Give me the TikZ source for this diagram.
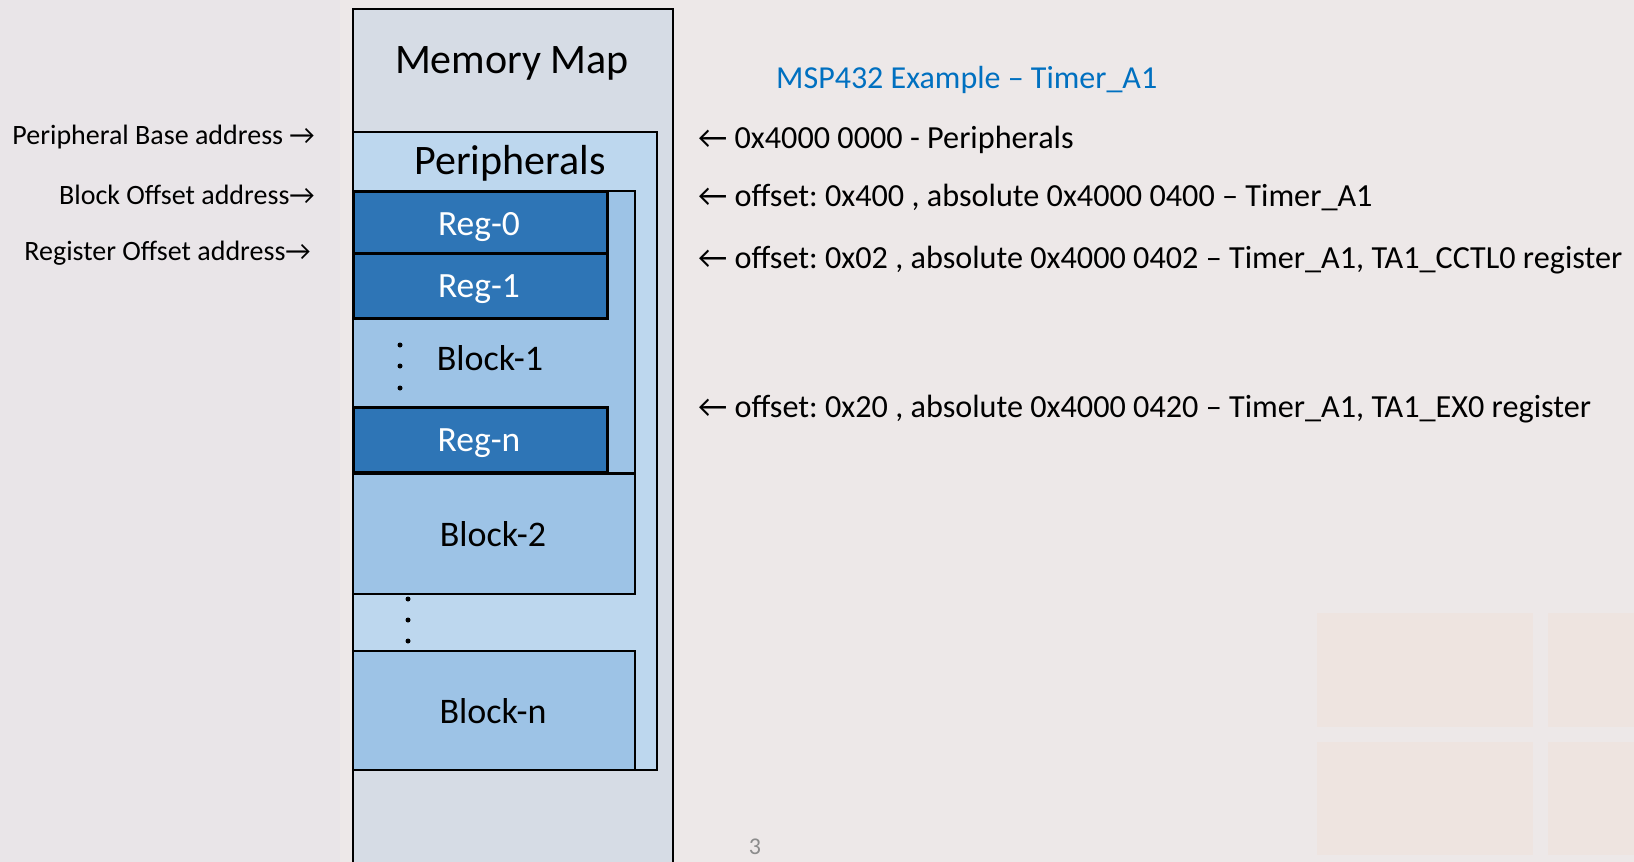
\documentclass[tikz,border=0pt]{standalone}
\usepackage{fontspec}
\setmainfont{Carlito}
\frenchspacing
\definecolor{bgbase}{HTML}{EDE8E8}
\definecolor{bgpeach}{HTML}{EFE2DA}
\definecolor{bgcool}{HTML}{E7E4E9}
\definecolor{outerfill}{HTML}{D6DCE5}
\definecolor{perfill}{HTML}{BDD7EE}
\definecolor{blockfill}{HTML}{9DC3E6}
\definecolor{regfill}{HTML}{2E75B6}
\definecolor{titleblue}{HTML}{0070C0}
\definecolor{pagegray}{HTML}{8C8C8C}
\tikzset{
  outerbox/.style={draw=black, line width=2pt, fill=outerfill},
  perbox/.style={draw=black, line width=2pt, fill=perfill},
  blockbox/.style={draw=black, line width=2.4pt, fill=blockfill},
  regbox/.style={draw=black, line width=3pt, fill=regfill},
  bigtxt/.style={font=\fontsize{42}{48}\selectfont, text=black, inner sep=0pt},
  midtxt/.style={font=\fontsize{36}{42}\selectfont, text=black, inner sep=0pt},
  regtxt/.style={font=\fontsize{35.5}{42}\selectfont, text=white, inner sep=0pt},
  lefttxt/.style={font=\fontsize{28}{33}\selectfont, text=black, inner sep=0pt, anchor=east},
  righttxt/.style={font=\fontsize{32.2}{40}\selectfont, text=black, inner sep=0pt, anchor=west},
  dotmark/.style={fill=black, circle, inner sep=0pt, minimum size=5pt},
  bgpatch/.style={fill=bgpeach, opacity=0.5},
}
\begin{document}
\begin{tikzpicture}[x=1pt, y=-1pt]
\clip (0,0) rectangle (1634,862);
\useasboundingbox (0,0) rectangle (1634,862);
% faded background
\fill[bgbase] (0,0) rectangle (1634,862);
\fill[bgcool, opacity=0.6] (0,0) rectangle (340,862);
\fill[bgpatch] (1317,613) rectangle (1533,727);
\fill[bgpatch] (1317,742) rectangle (1533,855);
\fill[bgpatch] (1548,613) rectangle (1634,727);
\fill[bgpatch] (1548,742) rectangle (1634,855);
% memory map
\node[outerbox, minimum width=320pt, minimum height=870pt, anchor=north west, inner sep=0pt] (outer) at (352,8) {};
\node[bigtxt] (mmtitle) at (512,63) {Memory Map};
\node[perbox, minimum width=304pt, minimum height=638pt, anchor=north west, inner sep=0pt] (periph) at (352,131) {};
\node[bigtxt] (periphtxt) at (510,163) {Peripherals};
\node[blockbox, minimum width=282pt, minimum height=282pt, anchor=north west, inner sep=0pt] (block1) at (352,190) {};
\node[regbox, minimum width=254pt, minimum height=62pt, anchor=north west, inner sep=0pt] (reg0) at (352,190) {};
\node[regbox, minimum width=254pt, minimum height=65pt, anchor=north west, inner sep=0pt] (reg1) at (352,252) {};
\node[regbox, minimum width=254pt, minimum height=65pt, anchor=north west, inner sep=0pt] (regn) at (352,406) {};
\node[regtxt] (reg0txt) at (479,227) {Reg-0};
\node[regtxt] (reg1txt) at (479,289) {Reg-1};
\node[regtxt] (regntxt) at (479,443) {Reg-n};
\node[midtxt] (block1txt) at (490,358) {Block-1};
\node[dotmark] (d1a) at (400,345) {};
\node[dotmark] (d1b) at (400,366) {};
\node[dotmark] (d1c) at (400,388) {};
\node[blockbox, minimum width=282pt, minimum height=120pt, anchor=north west, inner sep=0pt] (block2) at (352,473) {};
\node[midtxt] (block2txt) at (493,534) {Block-2};
\node[dotmark] (d2a) at (408,599) {};
\node[dotmark] (d2b) at (408,620) {};
\node[dotmark] (d2c) at (408,641) {};
\node[blockbox, minimum width=282pt, minimum height=119pt, anchor=north west, inner sep=0pt] (blockn) at (352,650) {};
\node[midtxt] (blockntxt) at (493,711) {Block-n};
% left labels
\node[lefttxt] (lbase) at (315,137) {Peripheral Base address →};
\node[lefttxt] (lblock) at (315,195) {Block Offset address→};
\node[lefttxt] (lreg) at (311,253) {Register Offset address→};
% right labels
\node[font=\fontsize{32}{38}\selectfont, text=titleblue, inner sep=0pt, anchor=west] (title) at (776,80) {MSP432 Example – Timer\_A1};
\node[righttxt] (r1) at (698,140) {← 0x4000 0000 - Peripherals};
\node[righttxt] (r2) at (698,197) {← offset: 0x400 , absolute 0x4000 0400 – Timer\_A1};
\node[righttxt] (r3) at (698,260) {← offset: 0x02 , absolute 0x4000 0402 – Timer\_A1, TA1\_CCTL0 register};
\node[righttxt] (r4) at (698,409) {← offset: 0x20 , absolute 0x4000 0420 – Timer\_A1, TA1\_EX0 register};
% page number
\node[font=\fontsize{24}{28}\selectfont, text=pagegray, inner sep=0pt] (pnum) at (755,847) {3};
\end{tikzpicture}
\end{document}
